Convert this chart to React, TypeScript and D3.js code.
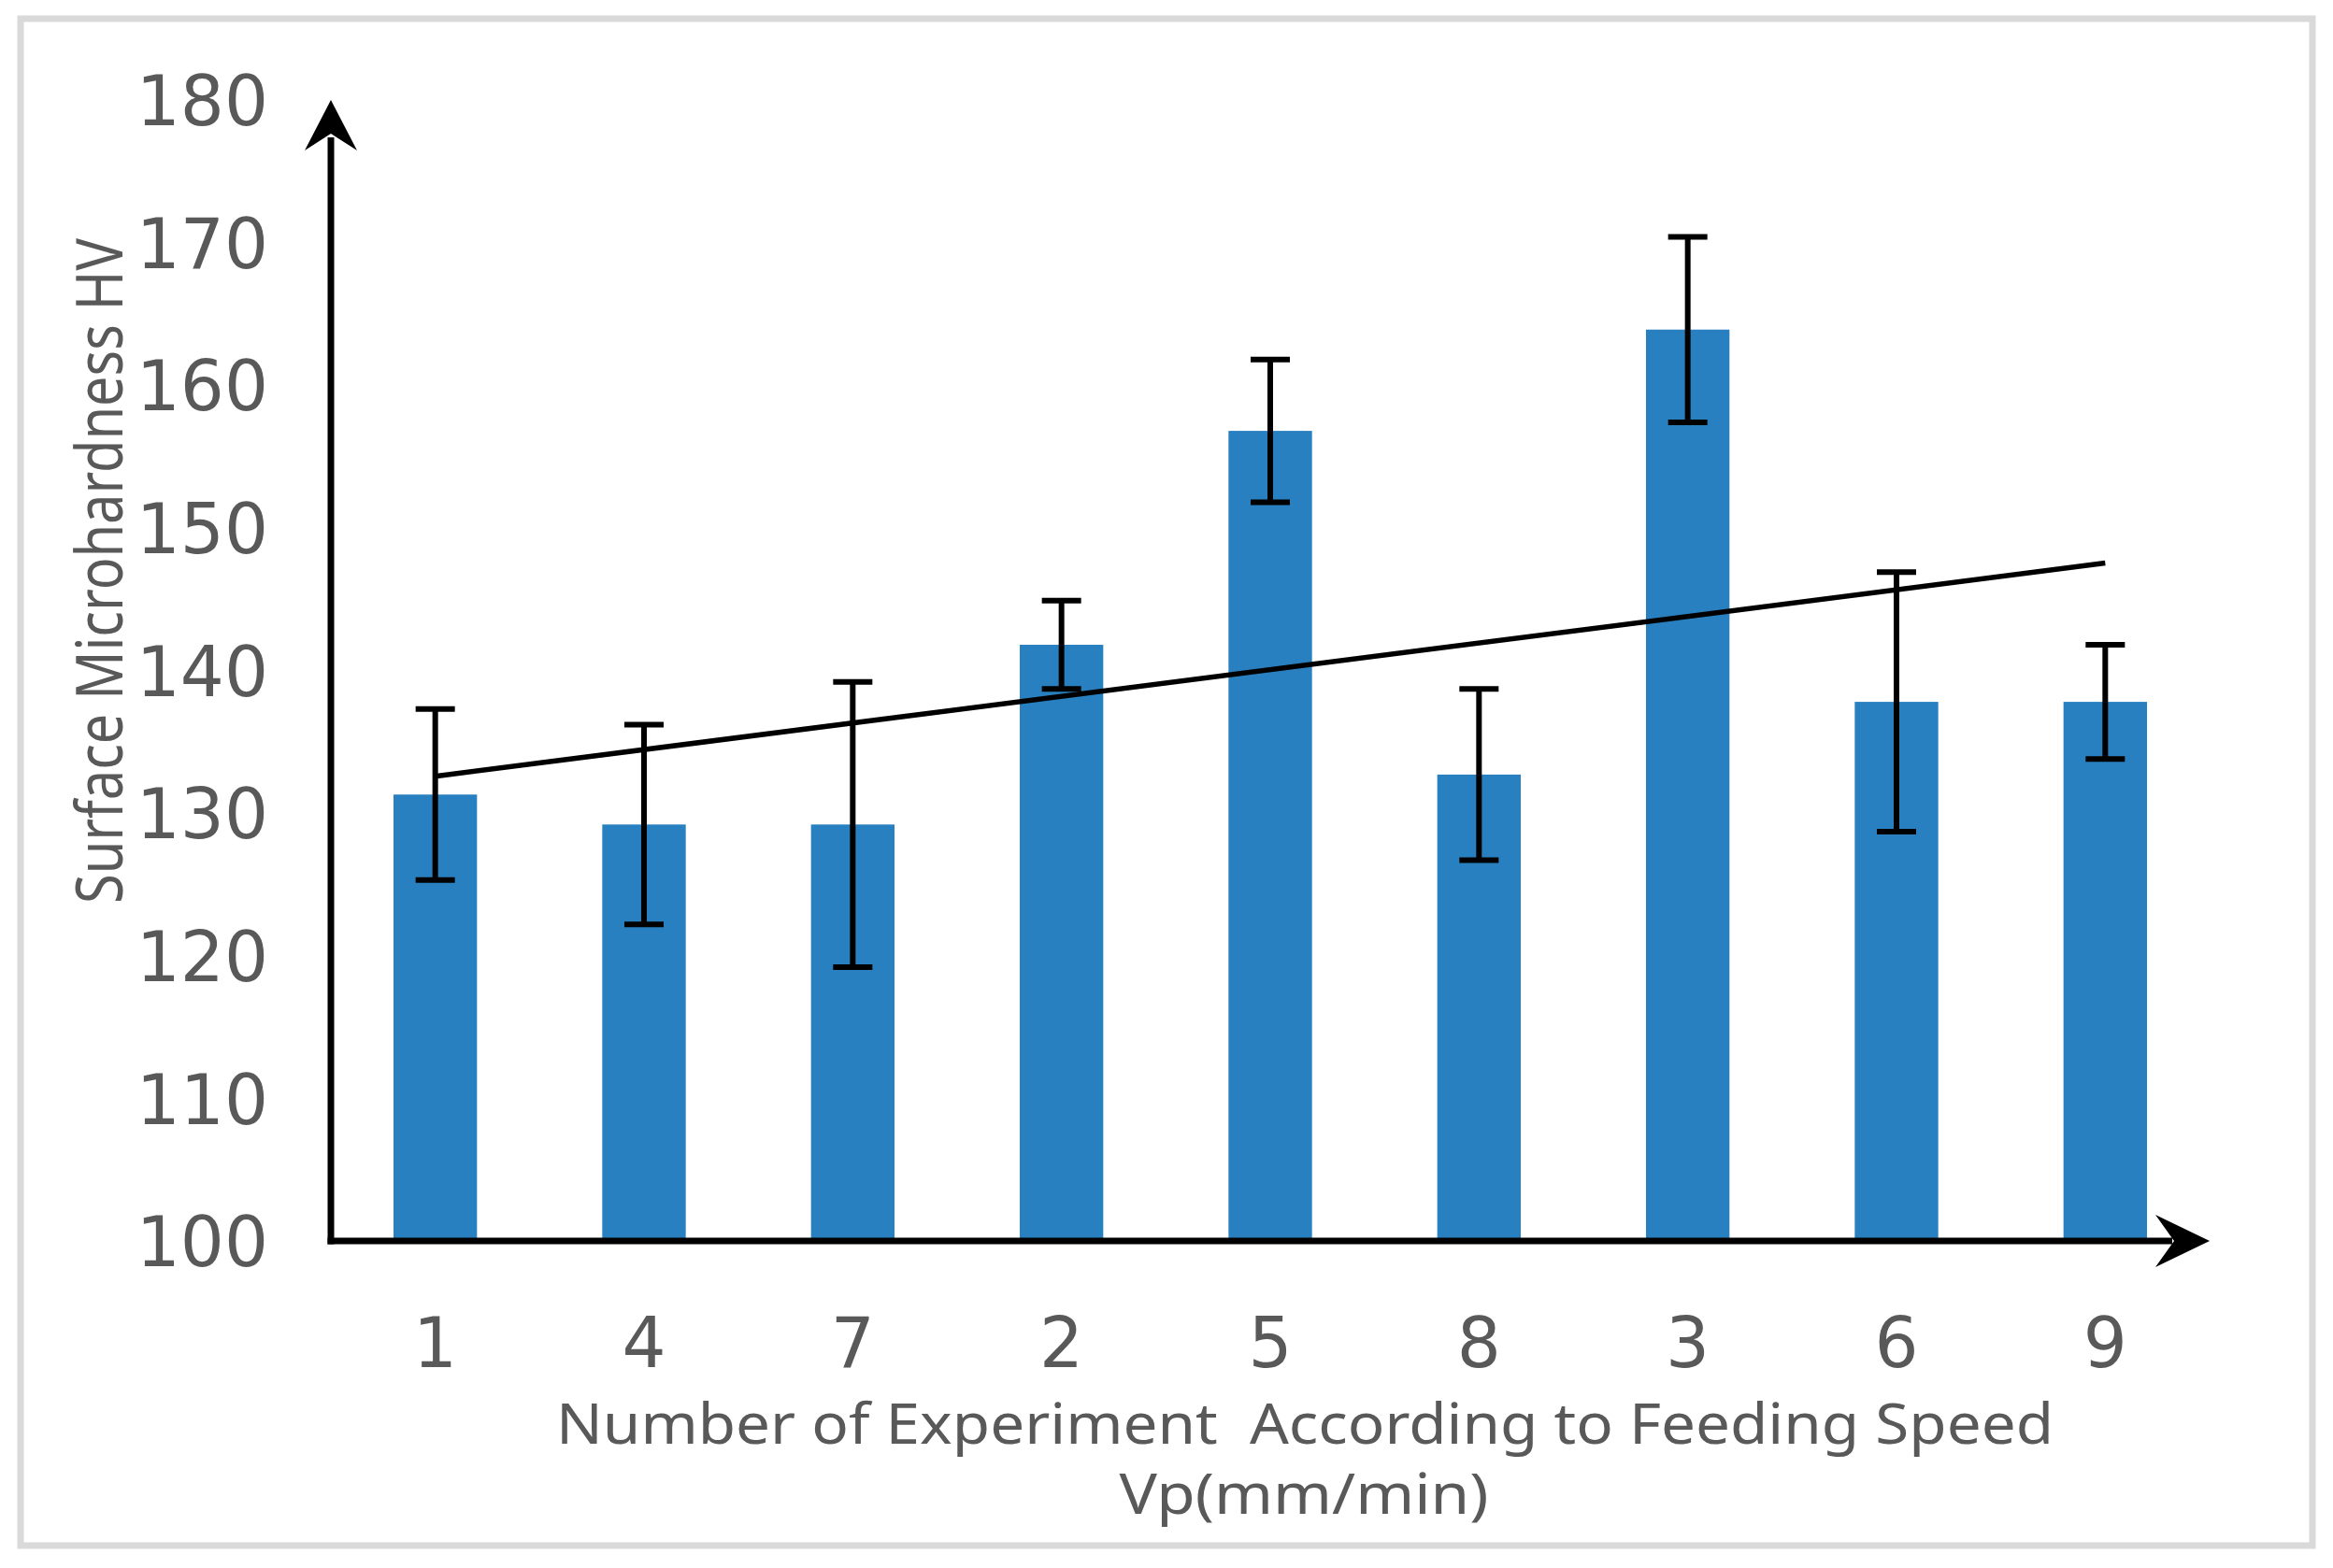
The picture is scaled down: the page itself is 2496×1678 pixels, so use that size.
// App.tsx
import React, { useEffect, useRef } from 'react';
import * as d3 from 'd3';

// experiment numbers, ordered by feeding speed
const experiments = ['1', '4', '7', '2', '5', '8', '3', '6', '9'];
const hardness = [131.3, 129.2, 129.2, 141.8, 156.8, 132.7, 163.9, 137.8, 137.8];
const errors = [6, 7, 10, 3.1, 5, 6, 6.5, 9.1, 4];
const yTicks = [100, 110, 120, 130, 140, 150, 160, 170, 180];

const W = 2496;
const H = 1678;

const App: React.FC = () => {
  const chartRef = useRef<SVGSVGElement | null>(null);

  useEffect(() => {
    drawChart();
  }, []);

  const drawChart = () => {
    const svg = d3.select(chartRef.current);
    svg.selectAll('*').remove();

    const textColor = '#595959';
    const left = 354;
    const right = 2364;
    const base = 1328;
    const top = 107;

    const x = d3
      .scaleBand<string>()
      .domain(experiments)
      .range([left, right])
      .paddingInner(0.6)
      .paddingOuter(0.3);

    const y = d3.scaleLinear().domain([100, 180]).range([base, top]);

    // outer frame
    svg.append('rect')
      .attr('x', 22)
      .attr('y', 20)
      .attr('width', 2452)
      .attr('height', 1634)
      .attr('fill', 'white')
      .attr('stroke', '#d9d9d9')
      .attr('stroke-width', 7);

    // bars
    svg.append('g')
      .selectAll('rect')
      .data(hardness)
      .join('rect')
      .attr('x', (_, i) => x(experiments[i]) as number)
      .attr('y', (d) => y(d))
      .attr('width', x.bandwidth())
      .attr('height', (d) => y(100) - y(d))
      .attr('fill', '#2880c0');

    // linear trend line (least squares over bar order)
    const idx = hardness.map((_, i) => i);
    const mx = d3.mean(idx) as number;
    const my = d3.mean(hardness) as number;
    const slope =
      d3.sum(idx, (i) => (i - mx) * (hardness[i] - my)) / d3.sum(idx, (i) => (i - mx) ** 2);
    const icpt = my - slope * mx;
    const cx = (i: number) => (x(experiments[i]) as number) + x.bandwidth() / 2;

    const trend = d3
      .line<number>()
      .x((i) => cx(i))
      .y((i) => y(icpt + slope * i));

    svg.append('path')
      .datum([0, idx.length - 1])
      .attr('fill', 'none')
      .attr('stroke', 'black')
      .attr('stroke-width', 5.5)
      .attr('d', trend);

    // error bars
    const eb = svg.append('g').attr('stroke', 'black').attr('stroke-width', 6);
    hardness.forEach((v, i) => {
      const e = errors[i];
      eb.append('line')
        .attr('x1', cx(i)).attr('x2', cx(i))
        .attr('y1', y(v + e)).attr('y2', y(v - e));
      [v + e, v - e].forEach((c) => {
        eb.append('line')
          .attr('x1', cx(i) - 21).attr('x2', cx(i) + 21)
          .attr('y1', y(c)).attr('y2', y(c));
      });
    });

    // axis lines with arrowheads
    svg.append('line')
      .attr('x1', left).attr('x2', left)
      .attr('y1', base + 3.5).attr('y2', top + 40)
      .attr('stroke', 'black').attr('stroke-width', 7);
    svg.append('path')
      .attr('d', `M${left},${top} L${left - 28},${top + 54} L${left},${top + 36} L${left + 28},${top + 54} Z`)
      .attr('fill', 'black');

    svg.append('line')
      .attr('x1', left - 3.5).attr('x2', right - 40)
      .attr('y1', base).attr('y2', base)
      .attr('stroke', 'black').attr('stroke-width', 7);
    svg.append('path')
      .attr('d', `M${right},${base} L${right - 58},${base - 28} L${right - 38},${base} L${right - 58},${base + 28} Z`)
      .attr('fill', 'black');

    // y tick labels
    const yAxis = svg.append('g')
      .attr('transform', `translate(${left},0)`)
      .call(d3.axisLeft(y).tickValues(yTicks).tickSize(0).tickPadding(67));
    yAxis.select('.domain').remove();
    yAxis.selectAll('text')
      .attr('dy', '0.36em')
      .attr('fill', textColor)
      .style('font-family', '"DejaVu Sans", sans-serif')
      .style('font-size', '74px');

    // x tick labels
    const xAxis = svg.append('g')
      .attr('transform', `translate(0,${base})`)
      .call(d3.axisBottom(x).tickSize(0).tickPadding(82));
    xAxis.select('.domain').remove();
    xAxis.selectAll('text')
      .attr('fill', textColor)
      .style('font-family', '"DejaVu Sans", sans-serif')
      .style('font-size', '74px');

    // y title
    svg.append('text')
      .attr('transform', 'translate(131,611) rotate(-90)')
      .attr('text-anchor', 'middle')
      .attr('textLength', 712)
      .attr('lengthAdjust', 'spacingAndGlyphs')
      .attr('fill', textColor)
      .style('font-family', '"Noto Sans", sans-serif')
      .style('font-size', '70px')
      .text('Surface Microhardness HV');

    // x title (two lines)
    svg.append('text')
      .attr('x', 1396)
      .attr('y', 1545)
      .attr('text-anchor', 'middle')
      .attr('textLength', 1602)
      .attr('lengthAdjust', 'spacingAndGlyphs')
      .attr('fill', textColor)
      .style('font-family', '"Noto Sans", sans-serif')
      .style('font-size', '60px')
      .style('white-space', 'pre')
      .text('Number of Experiment  According to Feeding Speed');

    svg.append('text')
      .attr('x', 1395)
      .attr('y', 1620)
      .attr('text-anchor', 'middle')
      .attr('textLength', 395)
      .attr('lengthAdjust', 'spacingAndGlyphs')
      .attr('fill', textColor)
      .style('font-family', '"Noto Sans", sans-serif')
      .style('font-size', '60px')
      .text('Vp(mm/min)');
  };

  return (
    <svg
      ref={chartRef}
      width={W}
      height={H}
      style={{ position: 'absolute', left: 0, top: 0, display: 'block', background: 'white' }}
    ></svg>
  );
};

export default App;
